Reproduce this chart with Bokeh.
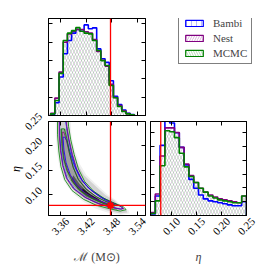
import math
from bokeh.plotting import figure
from bokeh.layouts import row, column
from bokeh.models import (Range1d, FixedTicker, LinearAxis, Span, Legend, LegendItem)
from bokeh.core.properties import value
from bokeh.embed import file_html
from bokeh.resources import INLINE

# ---------------- data ----------------
mc_label = "ℳ (M⊙)"
eta_label = "η"
series_names = ["Bambi", "Nest", "MCMC"]
series_colors = ["#0000ff", "#800080", "#008000"]

mc_ticks = [3.36, 3.42, 3.48, 3.54]
eta_ticks = [0.10, 0.15, 0.20, 0.25]

mc_true = 3.4772
eta_true = 0.0785

# chirp-mass marginal histograms (20 bins)
mc_bin_start = 3.337
mc_bin_width = 0.0098
mc_bambi = [0.07, 0.70, 2.10, 3.37, 4.10, 4.50, 4.70, 4.60, 4.95, 4.74,
            4.79, 3.64, 3.10, 2.90, 1.90, 1.05, 0.60, 0.30, 0.12, 0.05]
mc_nest = [0.12, 0.95, 2.37, 4.00, 4.45, 4.60, 4.70, 4.70, 4.58, 4.50,
           4.15, 3.50, 3.02, 2.70, 1.70, 0.98, 0.54, 0.25, 0.10, 0.04]
mc_mcmc = [0.09, 0.82, 2.30, 4.10, 4.50, 4.64, 4.80, 4.60, 4.50, 4.46,
           4.10, 3.55, 3.00, 2.73, 1.64, 0.97, 0.49, 0.22, 0.09, 0.04]

# eta marginal histograms (20 bins)
eta_bin_start = 0.058
eta_bin_width = 0.0096
eta_bambi = [0.11, 1.41, 5.07, 6.83, 6.69, 5.99, 4.93, 3.66, 2.61, 1.97,
             1.48, 1.20, 1.06, 0.99, 0.92, 0.85, 0.77, 0.70, 0.70, 0.99]
eta_nest = [0.21, 1.55, 4.30, 6.34, 6.34, 6.00, 4.93, 3.73, 2.89, 2.39,
            1.97, 1.69, 1.48, 1.34, 1.20, 1.13, 1.06, 0.99, 0.92, 1.41]
eta_mcmc = [0.14, 1.06, 3.60, 6.13, 6.06, 5.63, 4.50, 3.52, 2.82, 2.39,
            1.97, 1.69, 1.41, 1.27, 1.13, 1.06, 0.99, 0.92, 0.92, 1.41]

# 2-D posterior density (grey levels), outlines
dens_x0 = [3.349, 3.349, 3.352, 3.358, 3.367, 3.378, 3.393, 3.413, 3.443, 3.470, 3.500,
           3.522, 3.520, 3.505, 3.490, 3.470, 3.440, 3.420, 3.406, 3.394, 3.386, 3.383]
dens_y0 = [0.260, 0.220, 0.185, 0.155, 0.130, 0.115, 0.100, 0.086, 0.072, 0.064, 0.059,
           0.062, 0.068, 0.076, 0.089, 0.101, 0.125, 0.142, 0.162, 0.190, 0.220, 0.260]
dens_x1 = [3.352, 3.352, 3.356, 3.362, 3.370, 3.380, 3.395, 3.415, 3.445, 3.470, 3.500,
           3.517, 3.515, 3.500, 3.487, 3.465, 3.435, 3.415, 3.402, 3.390, 3.382, 3.378]
dens_y1 = [0.255, 0.224, 0.190, 0.158, 0.135, 0.120, 0.105, 0.090, 0.076, 0.068, 0.062,
           0.064, 0.068, 0.075, 0.088, 0.100, 0.124, 0.140, 0.160, 0.190, 0.220, 0.255]
dens_x2 = [3.358, 3.360, 3.366, 3.375, 3.390, 3.410, 3.440, 3.470, 3.495,
           3.490, 3.465, 3.440, 3.420, 3.405, 3.392, 3.382, 3.375]
dens_y2 = [0.235, 0.200, 0.165, 0.140, 0.118, 0.100, 0.084, 0.074, 0.068,
           0.074, 0.084, 0.098, 0.115, 0.135, 0.165, 0.200, 0.235]
dens_x3 = [3.385, 3.400, 3.420, 3.450, 3.475, 3.470, 3.450, 3.425, 3.405, 3.390]
dens_y3 = [0.130, 0.112, 0.097, 0.085, 0.077, 0.081, 0.090, 0.105, 0.122, 0.140]
dens_x4 = [3.410, 3.430, 3.455, 3.450, 3.430, 3.412]
dens_y4 = [0.108, 0.096, 0.087, 0.091, 0.101, 0.113]
dens_colors = ["#f0f0f0", "#d2d2d2", "#a0a0a0", "#5a5a5a", "#1a1a1a"]

# contours (outer / inner) per method
bambi_outer_x = [3.358, 3.358, 3.361, 3.366, 3.376, 3.393, 3.420, 3.450, 3.480, 3.502,
                 3.507, 3.498, 3.478, 3.455, 3.430, 3.410, 3.396, 3.386, 3.379, 3.374, 3.370]
bambi_outer_y = [0.262, 0.222, 0.190, 0.160, 0.133, 0.112, 0.094, 0.082, 0.075, 0.071,
                 0.073, 0.078, 0.086, 0.096, 0.111, 0.130, 0.155, 0.185, 0.215, 0.240, 0.262]
nest_outer_x = [3.357, 3.357, 3.360, 3.365, 3.374, 3.390, 3.417, 3.447, 3.477, 3.500,
                3.508, 3.500, 3.480, 3.457, 3.432, 3.412, 3.398, 3.388, 3.380, 3.375, 3.372]
nest_outer_y = [0.262, 0.222, 0.190, 0.160, 0.134, 0.113, 0.095, 0.083, 0.075, 0.071,
                0.072, 0.077, 0.084, 0.094, 0.109, 0.128, 0.153, 0.183, 0.213, 0.240, 0.262]
mcmc_outer_x = [3.353, 3.353, 3.356, 3.361, 3.370, 3.387, 3.414, 3.444, 3.474, 3.500,
                3.514, 3.507, 3.487, 3.462, 3.437, 3.417, 3.402, 3.392, 3.384, 3.379, 3.377]
mcmc_outer_y = [0.262, 0.224, 0.190, 0.158, 0.131, 0.109, 0.091, 0.079, 0.072, 0.067,
                0.070, 0.076, 0.083, 0.093, 0.108, 0.127, 0.153, 0.183, 0.213, 0.240, 0.262]
bambi_inner_x = [3.366, 3.368, 3.373, 3.383, 3.398, 3.419, 3.446, 3.472, 3.488,
                 3.486, 3.468, 3.446, 3.422, 3.405, 3.392, 3.382, 3.375, 3.370]
bambi_inner_y = [0.218, 0.192, 0.166, 0.141, 0.120, 0.103, 0.090, 0.082, 0.078,
                 0.081, 0.088, 0.100, 0.117, 0.137, 0.161, 0.188, 0.210, 0.218]
nest_inner_x = [3.364, 3.365, 3.369, 3.378, 3.392, 3.412, 3.439, 3.466, 3.484,
                3.484, 3.466, 3.443, 3.419, 3.401, 3.389, 3.380, 3.373, 3.368]
nest_inner_y = [0.228, 0.200, 0.172, 0.147, 0.125, 0.107, 0.093, 0.083, 0.079,
                0.081, 0.087, 0.097, 0.113, 0.133, 0.158, 0.188, 0.215, 0.228]
mcmc_inner_x = [3.362, 3.363, 3.367, 3.375, 3.388, 3.407, 3.434, 3.463, 3.486,
                3.489, 3.470, 3.446, 3.421, 3.402, 3.390, 3.381, 3.375, 3.369]
mcmc_inner_y = [0.235, 0.205, 0.175, 0.150, 0.127, 0.108, 0.093, 0.082, 0.077,
                0.079, 0.085, 0.095, 0.111, 0.131, 0.156, 0.186, 0.215, 0.235]

# ---------------- helpers ----------------
SERIF = "Liberation Serif"
RED = "#ff0000"


def step_xy(start, width, vals):
    xs, ys = [start], [0.0]
    for i, v in enumerate(vals):
        x0 = start + i * width
        xs += [x0, x0 + width]
        ys += [v, v]
    xs.append(start + len(vals) * width)
    ys.append(0.0)
    return xs, ys


def style_axis(ax, ticks):
    ax.ticker = FixedTicker(ticks=ticks)
    ax.major_tick_in = 4
    ax.major_tick_out = 0
    ax.minor_tick_line_color = None
    ax.axis_line_color = "black"
    ax.major_tick_line_color = "black"
    ax.major_tick_line_width = 1
    ax.major_label_text_font_size = "1px"
    ax.major_label_text_color = None
    ax.major_label_standoff = 0


def frame_axes(p, xticks, yticks):
    bottom = p.below[0]
    left = p.left[0]
    style_axis(bottom, xticks)
    style_axis(left, yticks)
    top = LinearAxis()
    style_axis(top, xticks)
    p.add_layout(top, "above")
    right = LinearAxis()
    style_axis(right, yticks)
    p.add_layout(right, "right")
    p.outline_line_color = "black"
    p.xgrid.visible = False
    p.ygrid.visible = False
    return bottom, left


def label_kw(size="11px", angle=math.pi / 4, style="normal"):
    return dict(angle=angle, text_align="center", text_baseline="middle",
                text_font=value(SERIF), text_font_size=size, text_color="black",
                text_font_style=style, level="annotation")


def new_fig(**kw):
    return figure(output_backend="svg", toolbar_location=None, tools="",
                  background_fill_color="white", border_fill_color="white", **kw)


def draw_hist(p, start, width, series):
    edges_l = [start + i * width for i in range(len(series[0]))]
    edges_r = [e + width for e in edges_l]
    # hatched fills (Nest: "/", MCMC: "\")
    for vals, color, pat in [(series[1], "#a060b0", "/"), (series[2], "#60b060", "\\")]:
        p.quad(left=edges_l, right=edges_r, bottom=0, top=vals,
               fill_alpha=0, line_color=None, hatch_pattern=pat,
               hatch_color=color, hatch_alpha=0.55, hatch_scale=6, hatch_weight=0.6)
    for vals, color in zip(series, series_colors):
        xs, ys = step_xy(start, width, vals)
        p.line(xs, ys, line_color=color, line_width=1.6)


mc_lo, mc_hi = 3.3319, 3.5592
eta_lo, eta_hi = 0.058, 0.25
mc_range = Range1d(mc_lo, mc_hi)

# ---------------- top-left: Mc marginal ----------------
p1 = new_fig(width=101, height=118, x_range=mc_range, y_range=Range1d(0, 5.3),
             min_border_left=2, min_border_right=2, min_border_top=18, min_border_bottom=3)
frame_axes(p1, mc_ticks, [0, 1, 2, 3, 4, 5])
draw_hist(p1, mc_bin_start, mc_bin_width, [mc_bambi, mc_nest, mc_mcmc])
p1.add_layout(Span(location=mc_true, dimension="height", line_color=RED, line_width=1.3))

# ---------------- bottom-left: 2-D posterior ----------------
p2 = new_fig(width=101, height=148, x_range=mc_range, y_range=Range1d(eta_lo, eta_hi),
             min_border_left=2, min_border_right=2, min_border_top=3, min_border_bottom=50)
b2, l2 = frame_axes(p2, mc_ticks, eta_ticks)
for xs, ys, c in zip([dens_x0, dens_x1, dens_x2, dens_x3, dens_x4],
                     [dens_y0, dens_y1, dens_y2, dens_y3, dens_y4], dens_colors):
    p2.patch(xs, ys, fill_color=c, line_color=None)
for (xs, ys), c in zip([(bambi_outer_x, bambi_outer_y), (nest_outer_x, nest_outer_y),
                        (mcmc_outer_x, mcmc_outer_y)], series_colors):
    p2.patch(xs, ys, fill_color=None, line_color=c, line_width=0.8)
for (xs, ys), c in zip([(bambi_inner_x, bambi_inner_y), (nest_inner_x, nest_inner_y),
                        (mcmc_inner_x, mcmc_inner_y)], series_colors):
    p2.patch(xs, ys, fill_color=None, line_color=c, line_width=0.8)
p2.add_layout(Span(location=mc_true, dimension="height", line_color=RED, line_width=1.3))
p2.add_layout(Span(location=eta_true, dimension="width", line_color=RED, line_width=1.3))
p2.scatter([mc_true], [eta_true], marker="square", size=5, color=RED)
# rotated x tick labels, centred on their ticks
p2.text(x=mc_ticks, y=[eta_lo] * len(mc_ticks), text=[f"{t:.2f}" for t in mc_ticks],
        y_offset=11, **label_kw())
b2.axis_label = mc_label
b2.axis_label_text_font = SERIF
b2.axis_label_text_font_size = "12px"
b2.axis_label_text_font_style = "normal"
b2.axis_label_standoff = 34

# ---------------- bottom-right: eta marginal ----------------
p3 = new_fig(width=119, height=148, x_range=Range1d(eta_lo, eta_hi), y_range=Range1d(0, 6.8),
             min_border_left=3, min_border_right=20, min_border_top=3, min_border_bottom=50)
b3, l3 = frame_axes(p3, eta_ticks, [0, 1, 2, 3, 4, 5, 6])
draw_hist(p3, eta_bin_start, eta_bin_width, [eta_bambi, eta_nest, eta_mcmc])
p3.add_layout(Span(location=eta_true, dimension="height", line_color=RED, line_width=1.3))
p3.text(x=eta_ticks, y=[0] * len(eta_ticks), text=[f"{t:.2f}" for t in eta_ticks],
        y_offset=11, **label_kw())
b3.axis_label = eta_label
b3.axis_label_text_font = SERIF
b3.axis_label_text_font_size = "12px"
b3.axis_label_text_font_style = "italic"
b3.axis_label_standoff = 34

# ---------------- left strip: eta tick labels + axis title ----------------
# full-height strip whose vertical scale matches the 2-D panel (frame: 95 px, top at 121 px)
STRIP_W, PAGE_H, FRAME_TOP, FRAME_H = 46, 266, 121, 95
s_eta = (eta_hi - eta_lo) / FRAME_H
strip = new_fig(width=STRIP_W, height=PAGE_H, x_range=Range1d(0, STRIP_W),
                y_range=Range1d(eta_hi - (PAGE_H - FRAME_TOP) * s_eta, eta_hi + FRAME_TOP * s_eta),
                x_axis_type=None, y_axis_type=None,
                min_border_left=0, min_border_right=0, min_border_top=0, min_border_bottom=0)
strip.outline_line_color = None
strip.text(x=[STRIP_W - 13] * len(eta_ticks), y=eta_ticks,
           text=[f"{t:.2f}" for t in eta_ticks], **label_kw())
strip.text(x=[15], y=[(eta_lo + eta_hi) / 2], text=[eta_label],
           **label_kw(size="12px", angle=math.pi / 2, style="italic"))

# ---------------- top-right: legend ----------------
p4 = new_fig(width=119, height=118, x_range=Range1d(0, 1), y_range=Range1d(0, 1),
             x_axis_type=None, y_axis_type=None,
             min_border_left=0, min_border_right=0, min_border_top=0, min_border_bottom=0)
p4.outline_line_color = None
items = []
for name, color, pat in zip(series_names, series_colors, ["|", "/", "\\"]):
    # glyph kept outside the visible range: it only feeds the legend swatch
    r = p4.quad(left=[5], right=[6], bottom=[5], top=[6], fill_alpha=0,
                line_color=color, line_width=1.2, hatch_pattern=pat,
                hatch_color=color, hatch_alpha=0.4, hatch_scale=5, hatch_weight=0.7)
    items.append(LegendItem(label=name, renderers=[r]))
legend = Legend(items=items, location=(31, 51), border_line_color="black",
                border_line_width=1, background_fill_color="white", background_fill_alpha=1,
                label_text_font=SERIF, label_text_font_size="11px",
                glyph_width=22, glyph_height=8, label_height=13, spacing=2,
                padding=4, margin=0, label_standoff=8)
p4.add_layout(legend)

layout = row(strip, column(row(p1, p4), row(p2, p3)))
open("out.html", "w").write(file_html(layout, INLINE))
